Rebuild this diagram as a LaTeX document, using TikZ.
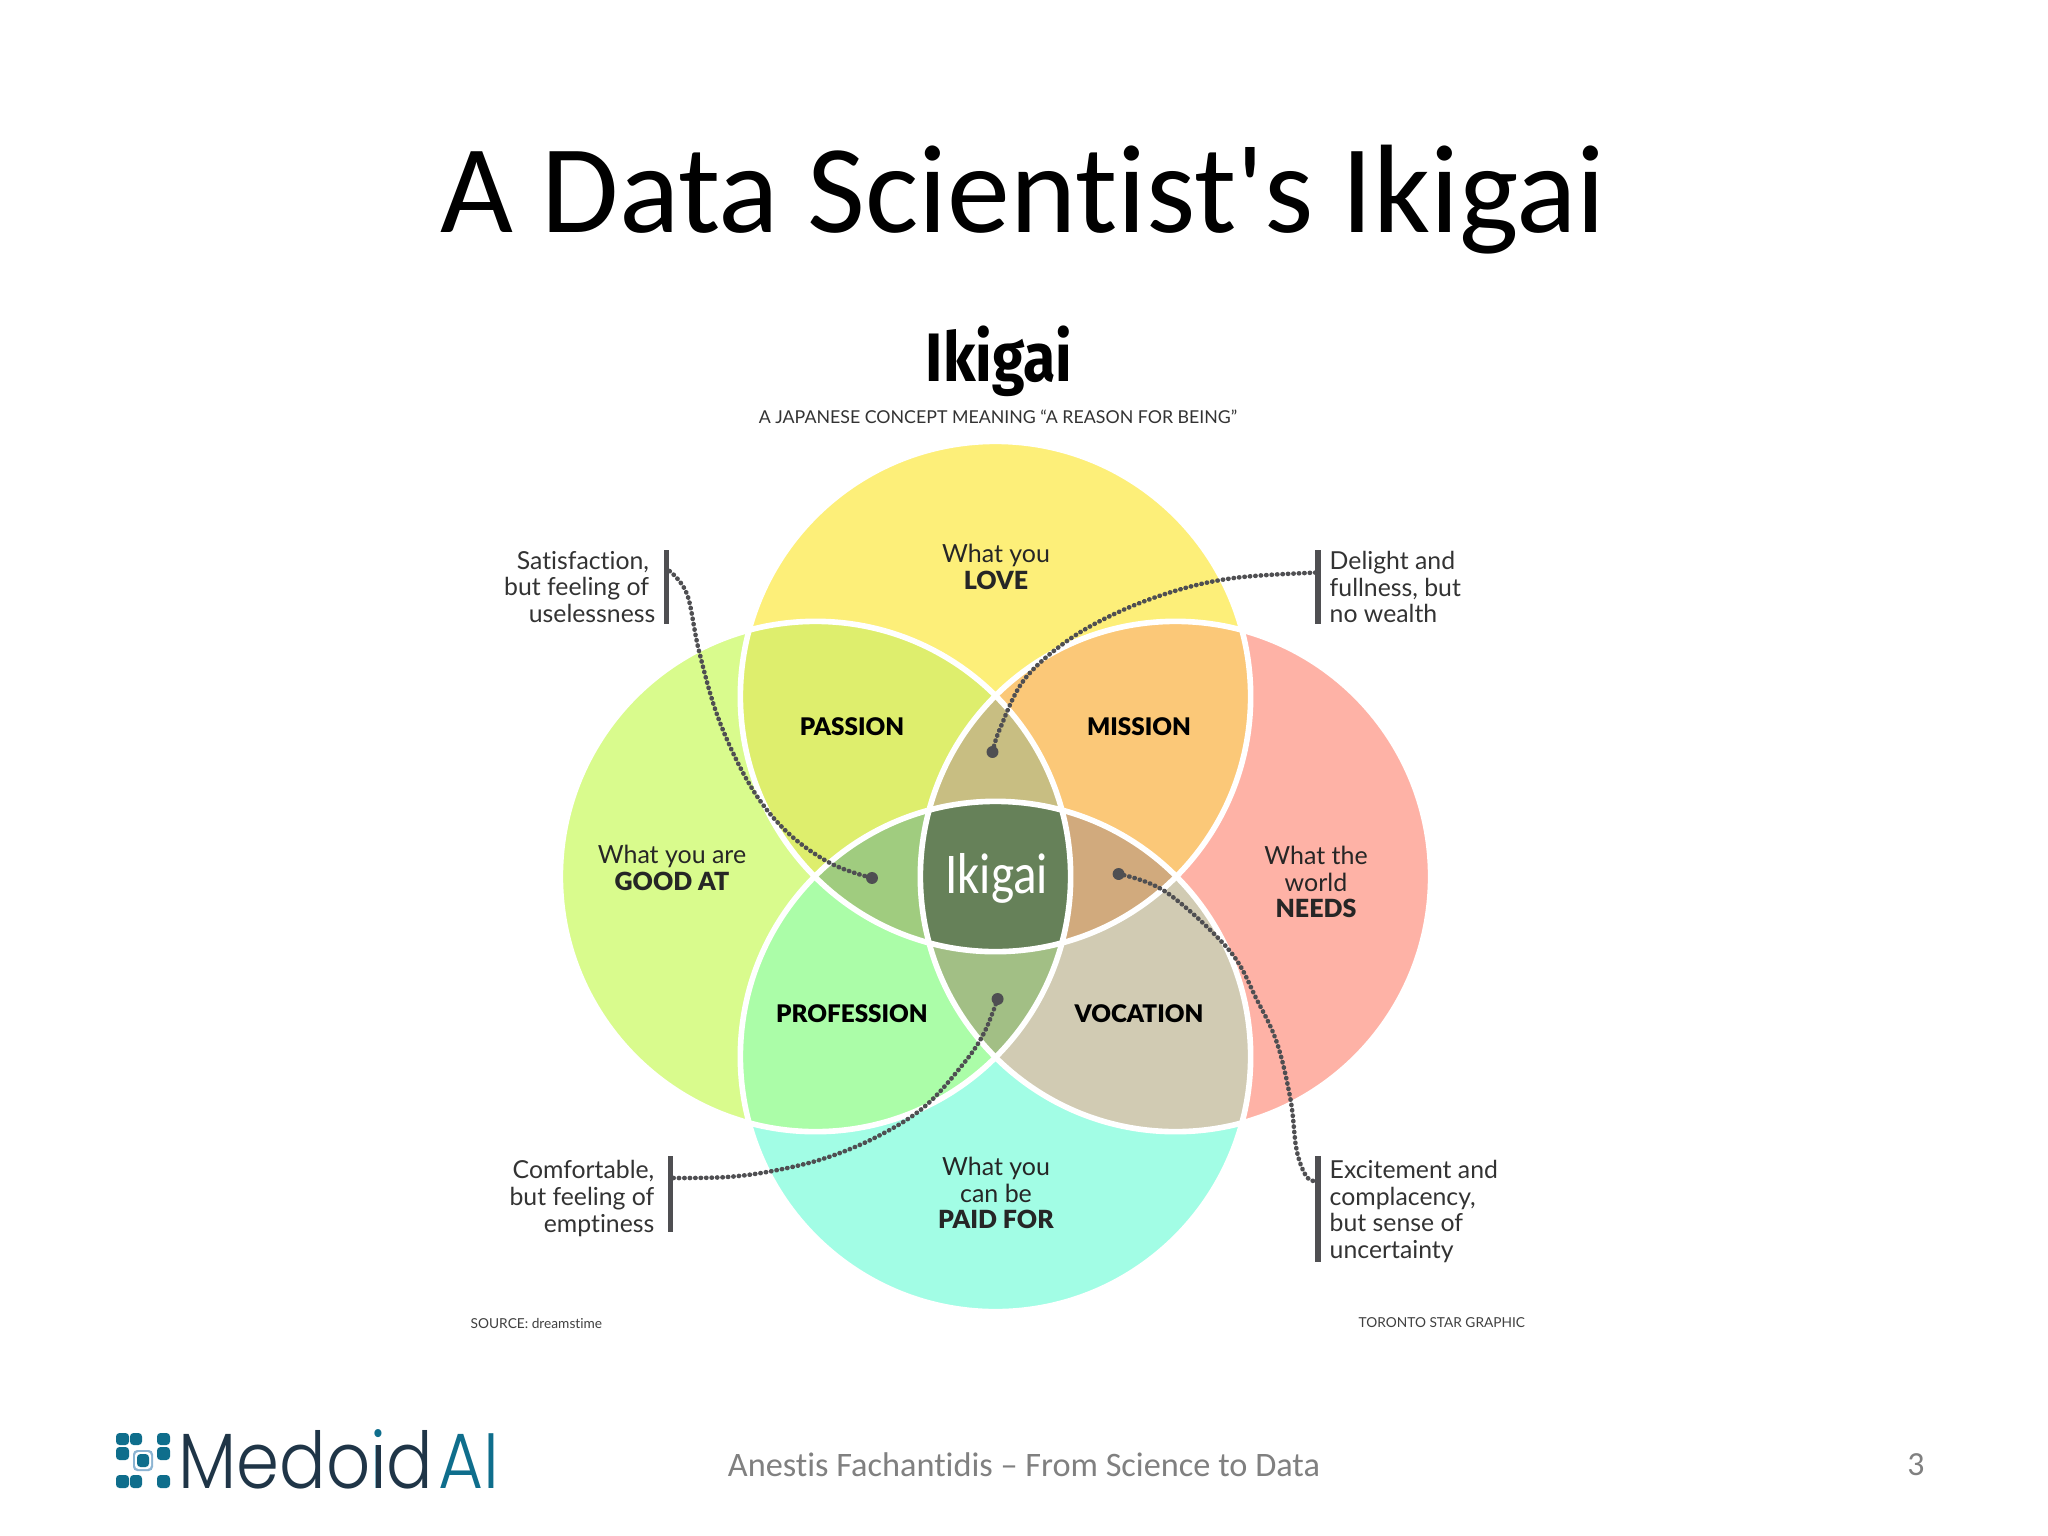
\documentclass[tikz,border=0pt]{standalone}
\usepackage{fontspec}
\setmainfont{Carlito}
\newfontfamily\slidefont{Carlito}[Ligatures={NoCommon}]
\newfontfamily\lab{Lato}[BoldFont={Lato Black},Ligatures={TeX,NoCommon}]
\newfontfamily\logofont{Poppins Light}
\newfontfamily\headfont{Fira Sans}
\newcommand{\cT}{(995.5,696.5) circle (2.55cm)}
\newcommand{\cB}{(995.5,1056.5) circle (2.55cm)}
\newcommand{\cL}{(815.5,876.5) circle (2.55cm)}
\newcommand{\cR}{(1175.5,876.5) circle (2.55cm)}
\definecolor{yT}{HTML}{FDEF79}
\definecolor{yL}{HTML}{D9FB8D}
\definecolor{yR}{HTML}{FEB2A6}
\definecolor{yB}{HTML}{A2FDE5}
\definecolor{pTL}{HTML}{DEEE6D}
\definecolor{pTR}{HTML}{FBC878}
\definecolor{pLB}{HTML}{ABFDA8}
\definecolor{pRB}{HTML}{D1CBB3}
\definecolor{tTLR}{HTML}{C8BE82}
\definecolor{tTLB}{HTML}{A0CC7F}
\definecolor{tTRB}{HTML}{D1AA7D}
\definecolor{tLRB}{HTML}{A2BF85}
\definecolor{cAll}{HTML}{668159}
\definecolor{inkc}{HTML}{4F4F52}
\definecolor{logoDark}{HTML}{1F3547}
\definecolor{logoTeal}{HTML}{0F6E8C}
\definecolor{logoLight}{HTML}{8CB4D2}
\newcommand{\tealdoti}{\sbox0{i}\textcolor{logoTeal}{i}\hbox to 0pt{\hss\hbox to \wd0{\hss\textcolor{logoDark}{\rule{0.075em}{\fontdimen5\font}}\hss}}}
\tikzset{
  x=0.01cm,y=-0.01cm,
  ringline/.style={white,line width=1.6pt},
  lbl/.style={align=center,inner sep=0pt,text=black!85,font=\lab\fontsize{7.1}{7.62}\selectfont},
  capword/.style={inner sep=0pt,text=black,font=\lab\bfseries\fontsize{6.9}{7.62}\selectfont},
  noter/.style={align=right,anchor=east,inner sep=0pt,text=black!80,font=\lab\fontsize{7.05}{7.62}\selectfont},
  notel/.style={align=left,anchor=west,inner sep=0pt,text=black!80,font=\lab\fontsize{7.05}{7.62}\selectfont},
  smalltext/.style={inner sep=0pt,text=black!75,font=\lab\fontsize{3.9}{4.4}\selectfont},
  barmark/.style={fill=inkc,draw=none,inner sep=0pt,minimum width=1.6pt},
  spot/.style={circle,fill=inkc,draw=none,inner sep=0pt,minimum size=3.4pt},
  beads/.style={draw=inkc,line width=1.3pt,line cap=round,dash pattern=on 0.1pt off 1.45pt},
  sq/.style={fill=logoTeal,rounded corners=1pt}
}
\begin{document}
\begin{tikzpicture}
\useasboundingbox (0,0) rectangle (2048,1536);
\fill[white] (0,0) rectangle (2048,1536);
% title
\node[inner sep=0pt,font=\slidefont\fontsize{35.8}{40}\selectfont] (title) at (1023,200) {A Data Scientist's Ikigai};
\node[inner sep=0pt,font=\headfont\bfseries\fontsize{19.5}{22}\selectfont,xscale=0.86,transform shape] (head) at (999,361) {Ikigai};
\node[inner sep=0pt,text=black!80,font=\lab\fontsize{5.05}{6}\selectfont] (sub) at (998,417) {A JAPANESE CONCEPT MEANING “A REASON FOR BEING”};
% singles
\fill[yT] \cT; \fill[yB] \cB; \fill[yL] \cL; \fill[yR] \cR;
% pairs
\begin{scope}\clip \cT; \fill[pTL] \cL; \fill[pTR] \cR; \end{scope}
\begin{scope}\clip \cB; \fill[pLB] \cL; \fill[pRB] \cR; \end{scope}
% triples
\begin{scope}\clip \cT; \clip \cL; \fill[tTLR] \cR; \fill[tTLB] \cB; \end{scope}
\begin{scope}\clip \cT; \clip \cR; \fill[tTRB] \cB; \end{scope}
\begin{scope}\clip \cB; \clip \cL; \fill[tLRB] \cR; \end{scope}
% centre
\begin{scope}\clip \cT; \clip \cB; \clip \cL; \fill[cAll] \cR; \end{scope}
\draw[ringline] \cT; \draw[ringline] \cB; \draw[ringline] \cL; \draw[ringline] \cR;
% labels
\node[lbl] (love) at (996,567) {What you\\\textbf{LOVE}};
\node[lbl] (good) at (672,868) {What you are\\\textbf{GOOD AT}};
\node[lbl] (needs) at (1316,882) {What the\\world\\\textbf{NEEDS}};
\node[lbl] (paid) at (996,1193) {What you\\can be\\\textbf{PAID FOR}};
\node[capword] (passion) at (852,727) {PASSION};
\node[capword] (mission) at (1139,727) {MISSION};
\node[capword] (profession) at (852,1014) {PROFESSION};
\node[capword] (vocation) at (1139,1014) {VOCATION};
\node[inner sep=0pt,text=white,font=\slidefont\fontsize{16.4}{18}\selectfont,xscale=0.85,transform shape] (core) at (996.5,878) {Ikigai};
% notes
\node[noter] (nSat) at (656,587) {Satisfaction,\kern1.8pt\\but feeling of\kern1.8pt\\uselessness};
\node[notel] (nDel) at (1329,587) {Delight and\\fullness, but\\no wealth};
\node[noter] (nCom) at (655,1198.5) {Comfortable,\\but feeling of\\emptiness};
\node[notel] (nExc) at (1329,1211.5) {Excitement and\\complacency,\\but sense of\\uncertainty};
% bars
\node[barmark,minimum height=21pt] (bSat) at (666.5,587) {};
\node[barmark,minimum height=21pt] (bDel) at (1318,587) {};
\node[barmark,minimum height=21.6pt] (bCom) at (670.5,1194) {};
\node[barmark,minimum height=30.2pt] (bExc) at (1318,1209) {};
% spots
\node[spot] (dA) at (872,878) {};
\node[spot] (dB) at (992.5,752) {};
\node[spot] (dC) at (997.6,999) {};
\node[spot] (dD) at (1118.6,874) {};
\coordinate (sA) at (669.5,571);
\coordinate (sB) at (1315.5,572.6);
\coordinate (sC) at (673.4,1178);
\coordinate (sD) at (1316,1181);
% connectors
\draw[beads] plot[smooth,tension=0.6] coordinates {(sA) (687,594) (699,651) (719,720) (750.5,786) (786,831) (830,863) (dA)};
\draw[beads] plot[smooth,tension=0.6] coordinates {(sB) (1237,577.6) (1178,590) (1118.6,612) (1067,641) (1024,680) (1000,728.6) (dB)};
\draw[beads] plot[smooth,tension=0.6] coordinates {(sC) (727,1177) (774,1170.7) (825.6,1158) (877,1136.7) (924.5,1106.7) (964,1063) (984,1033) (dC)};
\draw[beads] plot[smooth,tension=0.6] coordinates {(dD) (1166,892) (1229,950) (1257,1000) (1277,1043) (1290.6,1100) (1296.6,1150) (1306.5,1176.7) (sD)};
% sources
\node[smalltext,anchor=west] (src) at (470,1323) {SOURCE: dreamstime};
\node[smalltext,anchor=west] (tor) at (1358,1323) {TORONTO STAR GRAPHIC};
% footer
\node[inner sep=0pt,text=black!50,font=\slidefont\fontsize{9.75}{11}\selectfont] (foot) at (1024,1465) {Anestis Fachantidis – From Science to Data};
\node[inner sep=0pt,text=black!50,font=\slidefont\fontsize{9.6}{11}\selectfont] (page) at (1916,1465) {3};
% logo
\fill[sq] (116,1433) rectangle (129,1445);
\fill[sq] (130,1433) rectangle (142,1445);
\fill[sq] (157,1433) rectangle (170,1445);
\fill[sq] (116,1447) rectangle (129,1460);
\fill[sq] (157,1447) rectangle (170,1460);
\fill[sq] (116,1475) rectangle (129,1488);
\fill[sq] (130,1475) rectangle (142,1488);
\fill[sq] (157,1475) rectangle (170,1488);
\fill[logoLight,rounded corners=1.2pt] (133,1450) rectangle (153,1471);
\fill[white,rounded corners=1pt] (135,1452) rectangle (151,1469);
\fill[sq] (137,1454) rectangle (149,1467);
\node[inner sep=0pt,anchor=base west,text=logoDark,font=\logofont\fontsize{22.3}{24}\selectfont,xscale=0.88,transform shape] (medoid) at (178,1488) {Medo\tealdoti d};
\node[inner sep=0pt,anchor=base west,text=logoTeal,font=\logofont\fontsize{22.3}{24}\selectfont,xscale=0.88,transform shape] (ai) at (438,1488) {AI};
\end{tikzpicture}
\end{document}
